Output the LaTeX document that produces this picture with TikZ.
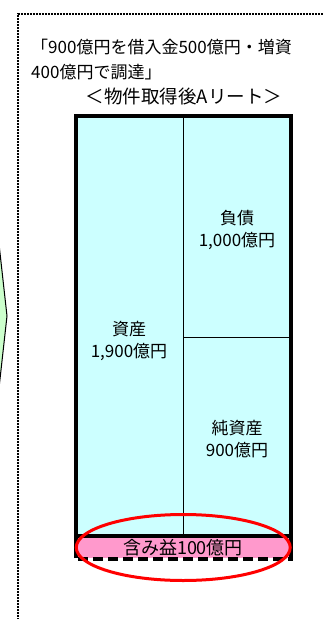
\documentclass[tikz,border=0pt]{standalone}
\usepackage{fontspec}
\setmainfont{Noto Sans CJK JP}
\definecolor{cellcyan}{HTML}{CCFFFF}
\definecolor{bandpink}{HTML}{FF99CC}
\definecolor{arrowgreen}{HTML}{CCFFCC}
\begin{document}
\begin{tikzpicture}[x=1pt,y=-1pt,
  cell/.style={draw=black, line width=1, fill=cellcyan, inner sep=0, outer sep=0},
  lbl/.style={font=\fontsize{17}{22}\selectfont, align=center, inner sep=0},
  ttl/.style={font=\fontsize{17}{21}\selectfont, inner sep=0},
  thick box/.style={line width=4}]
\useasboundingbox (0,0) rectangle (323,619);
% green arrow at left edge
\draw[fill=arrowgreen, line width=1] (-2,235) -- (7,316) -- (-2,397);
% dotted frame
\draw[line width=1.6, dash pattern=on 1.6pt off 1.4pt] (18,620) -- (18,14) -- (324,14);
% title
\node[ttl, anchor=west] (t1) at (31,47) {「900億円を借入金500億円・増資};
\node[ttl, anchor=west] (t2) at (31,72) {400億円で調達」};
\node[ttl, font=\fontsize{18.5}{21}\selectfont] (t3) at (184,96) {＜物件取得後Aリート＞};
% cells
\node[cell, minimum width=107, minimum height=420] (asset) at (129.5,326) {};
\node[cell, minimum width=107.5, minimum height=221] (debt) at (236.75,226.5) {};
\node[cell, minimum width=107.5, minimum height=199] (equity) at (236.75,436.5) {};
% pink band
\node[fill=bandpink, minimum width=214.5, minimum height=21, inner sep=0] (gain) at (183.25,547.5) {};
% thick outline
\draw[thick box] (76,558) -- (76,116) -- (290.5,116) -- (290.5,558);
\draw[thick box] (74,536) -- (292.5,536);
\draw[thick box, dash pattern=on 10pt off 5pt] (78,559) -- (292.5,559);
% labels
\node[lbl] (assetl) at (129,341) {資産\\1,900億円};
\node[lbl] (debtl) at (237,230) {負債\\1,000億円};
\node[lbl] (equityl) at (237,439) {純資産\\900億円};
\node[lbl, font=\fontsize{18}{22}\selectfont] (gainl) at (183,548) {含み益100億円};
% red ellipse
\draw[red, line width=3] (gain.center) ellipse [x radius=107, y radius=33];
\end{tikzpicture}
\end{document}
